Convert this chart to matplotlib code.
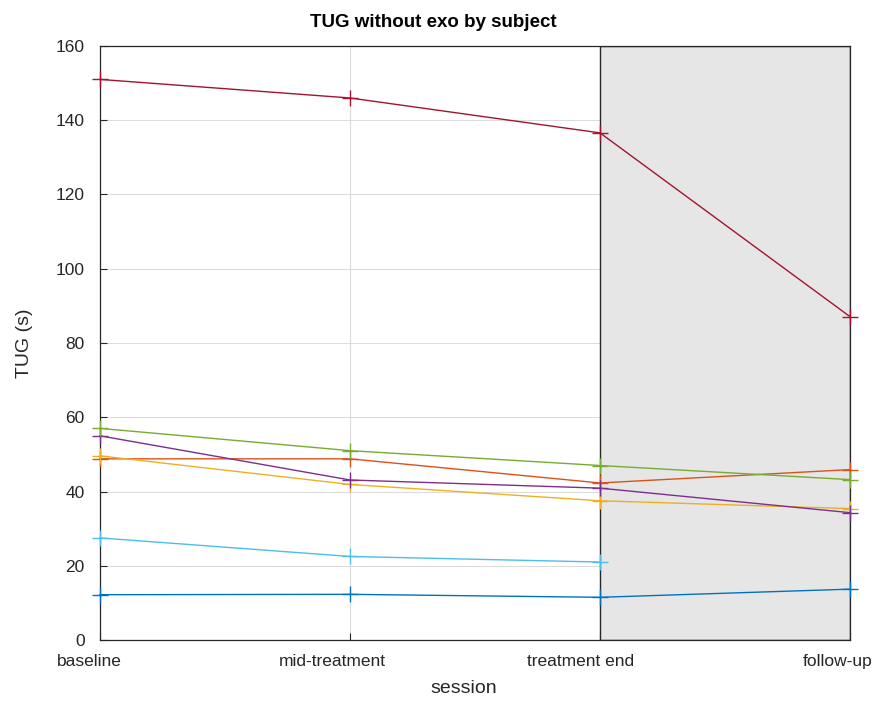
import numpy as np
import matplotlib
matplotlib.use("Agg")
import matplotlib.pyplot as plt
import matplotlib.transforms as mtransforms

plt.rcParams['font.family'] = ['Liberation Sans', 'DejaVu Sans']

sessions = ['baseline', 'mid-treatment', 'treatment end', 'follow-up']
yticks = [0, 20, 40, 60, 80, 100, 120, 140, 160]

# TUG (s) per subject, in MATLAB colour order
subj1 = [12.2, 12.3, 11.5, 13.7]
subj2 = [48.8, 48.8, 42.3, 45.9]
subj3 = [49.6, 41.9, 37.5, 35.4]
subj4 = [55.0, 43.1, 40.9, 34.3]
subj5 = [57.0, 51.0, 47.0, 43.2]
subj6 = [27.5, 22.5, 21.0, np.nan]
subj7 = [151.0, 146.0, 136.6, 87.1]

subjects = [subj1, subj2, subj3, subj4, subj5, subj6, subj7]
colors = ['#0072BD', '#D95319', '#EDB120', '#7E2F8E', '#77AC30', '#4DBEEE', '#A2142F']

fig = plt.figure(figsize=(8.79, 7.05), dpi=100)
ax = fig.add_axes([100/879, 1 - 640/705, 750/879, 594/705])

x = np.arange(len(sessions))

ax.set_axisbelow(True)
ax.grid(True, color='#dcdcdc', linewidth=0.8)

# follow-up period shading
ax.axvspan(2, 3, facecolor='#e6e6e6', edgecolor='#262626', linewidth=1.0, zorder=1)

for vals, c in zip(subjects, colors):
    ax.plot(x, vals, color=c, linewidth=1.0, marker='+', markersize=12,
            markeredgewidth=1.0, zorder=3, clip_on=False)

ax.set_xlim(0, 3)
ax.set_ylim(0, 160)
ax.set_xticks(x)
ax.set_xticklabels(sessions)
ax.set_yticks(yticks)

txt = '#262626'
ax.tick_params(direction='in', length=5, width=0.8, colors=txt, labelsize=12.5, pad=11)
ax.tick_params(axis='x', pad=10)
for side in ['left', 'bottom', 'top', 'right']:
    ax.spines[side].set_color(txt)
    ax.spines[side].set_linewidth(0.9)

# labels in the original sit a little left of their ticks
shifts = [-11, -18, -19, -12]
for lab, dx in zip(ax.get_xticklabels(), shifts):
    lab.set_transform(lab.get_transform() +
                      mtransforms.ScaledTranslation(dx / 100, 0, fig.dpi_scale_trans))

ax.set_xlabel('session', fontsize=14, color=txt, labelpad=8, x=0.485)
ax.set_ylabel('TUG (s)', fontsize=14, color=txt, labelpad=16)
ax.set_title('TUG without exo by subject', fontsize=13.5, fontweight='bold',
             color='black', pad=14, x=0.445)

fig.savefig('out.png', dpi=100)
